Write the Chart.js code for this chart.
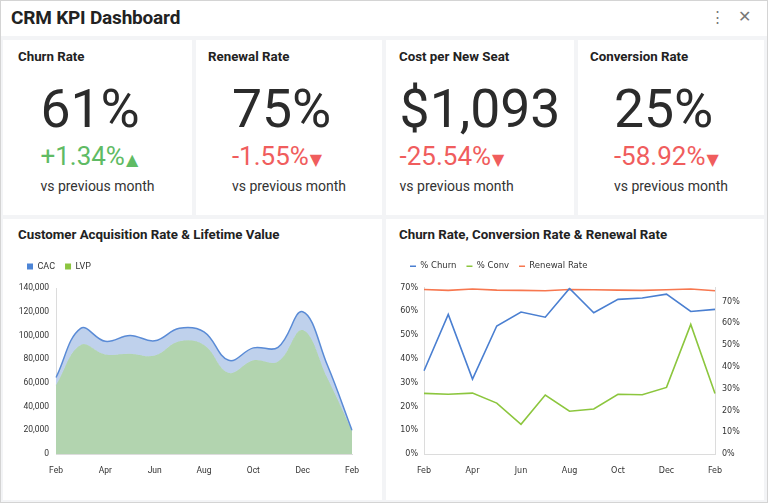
<!DOCTYPE html>
<html>
<head>
<meta charset="utf-8">
<script src="https://cdn.jsdelivr.net/npm/chart.js@4.4.0/dist/chart.umd.min.js"></script>
<style>
  html, body { margin: 0; padding: 0; }
  body { width: 768px; height: 503px; position: relative; overflow: hidden; background: #f3f4f6; font-family: Roboto, "Noto Sans", sans-serif; color: #333; }
  .frame { position: absolute; left: 0; top: 0; width: 766px; height: 501px; border: 1px solid #d4d4d4; }
  .bar { position: absolute; left: 0; top: 0; width: 768px; height: 36px; background: #fff; }
  .bar h1 { position: absolute; left: 11px; top: 6px; margin: 0; font-size: 19px; font-weight: 700; color: #222; letter-spacing: -0.2px; }
  .icons { position: absolute; top: 8px; font-size: 15px; color: #777; }
  .card { position: absolute; background: #fff; }
  .card h2 { position: absolute; left: 15px; top: 9px; margin: 0; font-size: 13.3px; font-weight: 700; color: #222; white-space: nowrap; }
  .kpi { position: absolute; left: 0; right: 0; top: 41px; text-align: center; }
  .kpi .blk { display: inline-block; text-align: left; }
  .big { font-size: 53.5px; line-height: 56px; font-weight: 400; color: #2b2b2b; white-space: nowrap; }
  .chg { font-size: 26px; line-height: 26px; margin-top: 6px; white-space: nowrap; }
  .chg .tri { font-family: "DejaVu Sans"; font-size: 16px; margin-left: 1px; }
  .up { color: #5fbb64; }
  .down { color: #f05d5d; }
  .vs { font-size: 14px; line-height: 18px; margin-top: 4px; color: #333; white-space: nowrap; }
  canvas { position: absolute; }
</style>
</head>
<body>
<div class="bar">
  <h1>CRM KPI Dashboard</h1>
  <span class="icons" style="left:710px">&#8942;</span>
  <span class="icons" style="left:738px; font-size:16px; top:7px">&#10005;</span>
</div>

<div class="card" style="left:3px; top:40px; width:189px; height:175px">
  <h2>Churn Rate</h2>
  <div class="kpi"><div class="blk">
    <div class="big">61%</div>
    <div class="chg up">+1.34%<span class="tri">&#9650;</span></div>
    <div class="vs">vs previous month</div>
  </div></div>
</div>
<div class="card" style="left:196px; top:40px; width:186px; height:175px">
  <h2 style="left:12px">Renewal Rate</h2>
  <div class="kpi"><div class="blk">
    <div class="big">75%</div>
    <div class="chg down">-1.55%<span class="tri">&#9660;</span></div>
    <div class="vs">vs previous month</div>
  </div></div>
</div>
<div class="card" style="left:386px; top:40px; width:188px; height:175px">
  <h2 style="left:13px">Cost per New Seat</h2>
  <div class="kpi"><div class="blk">
    <div class="big">$1,093</div>
    <div class="chg down">-25.54%<span class="tri">&#9660;</span></div>
    <div class="vs">vs previous month</div>
  </div></div>
</div>
<div class="card" style="left:578px; top:40px; width:186px; height:175px">
  <h2 style="left:12px">Conversion Rate</h2>
  <div class="kpi"><div class="blk">
    <div class="big">25%</div>
    <div class="chg down">-58.92%<span class="tri">&#9660;</span></div>
    <div class="vs">vs previous month</div>
  </div></div>
</div>

<div class="card" style="left:3px; top:219px; width:379px; height:281px">
  <h2 style="top:8px">Customer Acquisition Rate &amp; Lifetime Value</h2>
</div>
<div class="card" style="left:386px; top:219px; width:378px; height:281px">
  <h2 style="top:8px; left:13px">Churn Rate, Conversion Rate &amp; Renewal Rate</h2>
</div>

<canvas id="areaChart" width="360" height="235" style="left:17px; top:252px"></canvas>
<canvas id="lineChart" width="364" height="235" style="left:398px; top:252px"></canvas>
<div class="frame"></div>

<script>
// months, Feb to Feb
var months = ["Feb", "Mar", "Apr", "May", "Jun", "Jul", "Aug", "Sep", "Oct", "Nov", "Dec", "Jan", "Feb"];

// customer acquisition (CAC) and lifetime value (LVP)
var cac = [64500, 106000, 95000, 100000, 95500, 106000, 103000, 79000, 89500, 90000, 120000, 75000, 20000];
var lvp = [58000, 92000, 84000, 84500, 83000, 95000, 92000, 68500, 79000, 78000, 104500, 64000, 19500];
var cacTicks = [0, 20000, 40000, 60000, 80000, 100000, 120000, 140000];

// rates in percent
var churn = [35, 58.7, 31.5, 53.8, 59.7, 57.5, 69.6, 59.4, 65, 65.6, 67.2, 59.9, 60.8];
var conv = [25.5, 25.1, 25.6, 21.4, 12.5, 24.8, 18, 18.9, 25.1, 24.9, 28, 54.5, 25.4];
var renewal = [75.6, 75.2, 75.8, 75.3, 75.2, 75.0, 75.6, 75.5, 75.3, 75.2, 75.5, 75.8, 75.0];

var axisColor = '#dcdcdc';

function everyOther(val, i) {
  return i % 2 === 0 ? months[i] : '';
}

// pushes the legend a bit right and leaves a gap under it
function legendSpacing(shift, gap) {
  return {
    id: 'legendSpacing',
    beforeInit: function(chart) {
      var fit = chart.legend.fit;
      chart.legend.fit = function() {
        fit.bind(chart.legend)();
        this.height += gap;
      };
    },
    afterLayout: function(chart) {
      chart.legend.left += shift;
      chart.legend.right += shift;
    }
  };
}

// Area chart
new Chart(document.getElementById('areaChart'), {
  type: 'line',
  data: {
    labels: months,
    datasets: [
      {
        label: 'CAC',
        data: cac,
        borderColor: '#5a8bd6',
        backgroundColor: '#bfd1ec',
        borderWidth: 1.5,
        fill: 1,
        tension: 0.4,
        pointRadius: 0
      },
      {
        label: 'LVP',
        data: lvp,
        borderColor: '#b0d4ad',
        backgroundColor: '#b2d4af',
        borderWidth: 1,
        fill: 'origin',
        tension: 0.4,
        pointRadius: 0
      }
    ]
  },
  options: {
    responsive: false,
    animation: false,
    layout: { padding: { right: 25, bottom: 0 } },
    plugins: {
      tooltip: { enabled: false },
      legend: {
        align: 'start',
        labels: {
          boxWidth: 6,
          boxHeight: 6,
          padding: 10,
          color: '#333',
          font: { family: 'Roboto', size: 9 },
          generateLabels: function(chart) {
            var items = Chart.defaults.plugins.legend.labels.generateLabels(chart);
            var solid = ['#4d85d6', '#8cc540'];
            items.forEach(function(it, k) { it.fillStyle = solid[k]; it.strokeStyle = solid[k]; it.lineWidth = 0; });
            return items;
          }
        }
      }
    },
    scales: {
      x: {
        grid: { display: false, drawTicks: false },
        border: { color: axisColor },
        ticks: { autoSkip: false, maxRotation: 0, padding: 12, color: '#333', font: { family: 'Roboto', size: 8.5 }, callback: everyOther },
        afterFit: function(s) { s.height = 33; }
      },
      y: {
        min: 0,
        max: 140000,
        grid: { display: false, drawTicks: false },
        border: { color: axisColor },
        afterBuildTicks: function(s) { s.ticks = cacTicks.map(function(v) { return { value: v }; }); },
        ticks: { padding: 7, color: '#333', font: { family: 'Roboto', size: 8.5 }, callback: function(v) { return v.toLocaleString('en-US'); } },
        afterFit: function(s) { s.width = 39; }
      }
    }
  },
  plugins: [legendSpacing(0, 7)]
});

// Line chart
var lineFont = { family: 'DejaVu Sans', size: 8 };
new Chart(document.getElementById('lineChart'), {
  type: 'line',
  data: {
    labels: months,
    datasets: [
      { label: '% Churn', data: churn, borderColor: '#4a7fd1', backgroundColor: '#4a7fd1', borderWidth: 1.6, pointRadius: 0, yAxisID: 'y' },
      { label: '% Conv', data: conv, borderColor: '#8cc63e', backgroundColor: '#8cc63e', borderWidth: 1.6, pointRadius: 0, yAxisID: 'y' },
      { label: 'Renewal Rate', data: renewal, borderColor: '#f7774f', backgroundColor: '#f7774f', borderWidth: 1.6, pointRadius: 0, yAxisID: 'y1' }
    ]
  },
  options: {
    responsive: false,
    animation: false,
    plugins: {
      tooltip: { enabled: false },
      legend: {
        align: 'start',
        labels: {
          usePointStyle: true,
          pointStyle: 'line',
          pointStyleWidth: 6,
          boxHeight: 6,
          padding: 10,
          color: '#333',
          font: { family: 'DejaVu Sans', size: 8.5 }
        }
      }
    },
    scales: {
      x: {
        grid: { display: false, drawTicks: false },
        border: { color: axisColor },
        ticks: { autoSkip: false, maxRotation: 0, padding: 12, color: '#333', font: lineFont, callback: everyOther },
        afterFit: function(s) { s.height = 33; }
      },
      y: {
        position: 'left',
        min: 0,
        max: 70,
        grid: { display: false, drawTicks: false },
        border: { color: axisColor },
        ticks: { stepSize: 10, padding: 6, color: '#333', font: lineFont, callback: function(v) { return v + '%'; } },
        afterFit: function(s) { s.width = 26; }
      },
      y1: {
        position: 'right',
        min: 0,
        max: 76.5,
        grid: { display: false, drawTicks: false },
        border: { color: axisColor },
        afterBuildTicks: function(s) { s.ticks = s.ticks.filter(function(t) { return t.value % 10 === 0; }); },
        ticks: { stepSize: 10, padding: 7, color: '#333', font: lineFont, callback: function(v) { return v + '%'; } },
        afterFit: function(s) { s.width = 47; }
      }
    }
  },
  plugins: [legendSpacing(2, 7)]
});
</script>
</body>
</html>
